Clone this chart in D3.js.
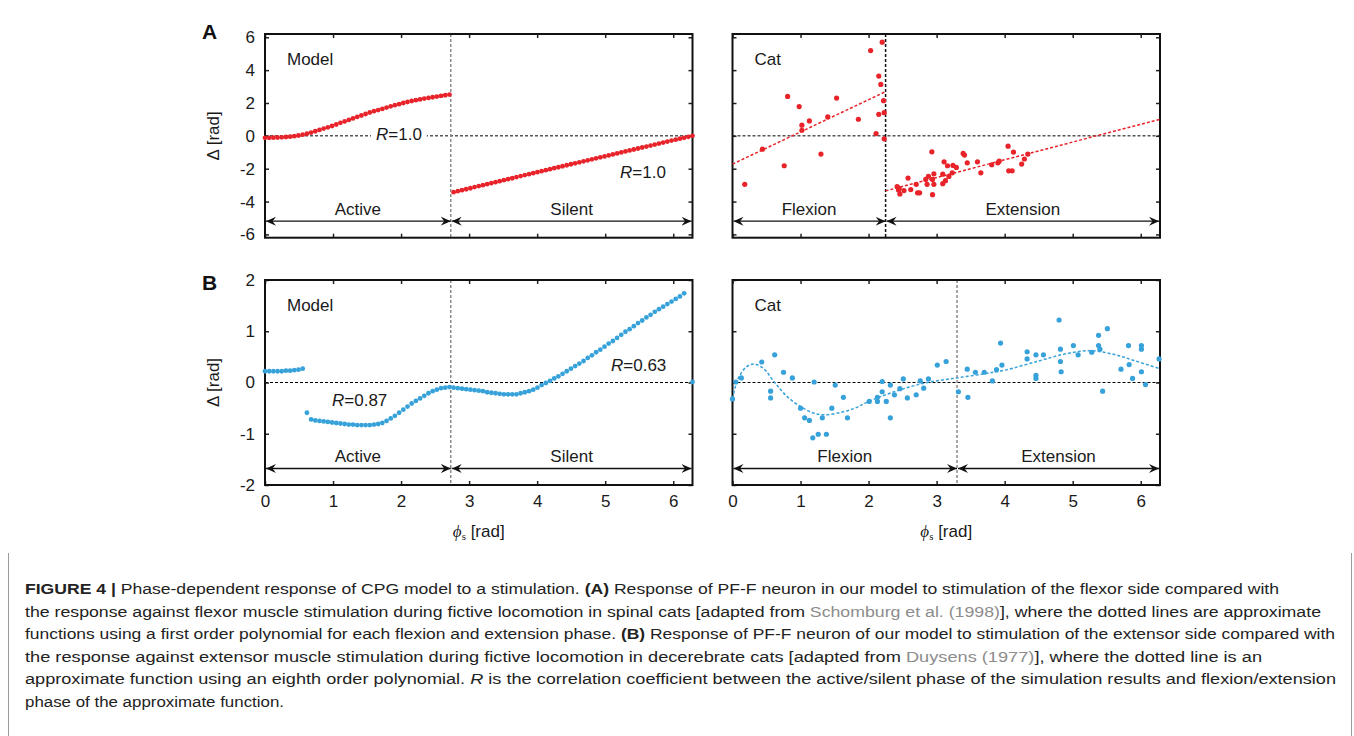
<!DOCTYPE html>
<html>
<head>
<meta charset="utf-8">
<script src="https://cdn.jsdelivr.net/npm/d3@7"></script>
<style>
  body { margin: 0; background: #fff; }
  svg { display: block; }
</style>
</head>
<body>
<svg id="chart" width="1354" height="736"></svg>
<script>
/* ---------------- dati ---------------- */

// fasi del modello: 103 campioni equispaziati su [0, 2pi]
const modelSteps = 102;

// A - modello, fase attiva e silente (Delta in rad)
const modelAActive = [-0.12, -0.12, -0.11, -0.10, -0.09, -0.07, -0.05, -0.02, 0.02, 0.07,
  0.13, 0.20, 0.28, 0.36, 0.44, 0.52, 0.60, 0.69, 0.79, 0.88,
  0.97, 1.06, 1.15, 1.24, 1.33, 1.42, 1.50, 1.57, 1.64, 1.72,
  1.80, 1.87, 1.93, 2.00, 2.06, 2.12, 2.17, 2.22, 2.27, 2.31,
  2.35, 2.39, 2.43, 2.47, 2.51];
const modelASilent = [-3.43, -3.37, -3.31, -3.25, -3.19, -3.12, -3.06, -3.00, -2.94, -2.88,
  -2.82, -2.76, -2.70, -2.64, -2.58, -2.51, -2.45, -2.39, -2.33, -2.27,
  -2.21, -2.15, -2.09, -2.03, -1.97, -1.91, -1.85, -1.79, -1.73, -1.67,
  -1.61, -1.55, -1.49, -1.43, -1.37, -1.31, -1.25, -1.19, -1.13, -1.07,
  -1.01, -0.95, -0.89, -0.83, -0.77, -0.71, -0.65, -0.59, -0.53, -0.47,
  -0.41, -0.35, -0.29, -0.23, -0.17, -0.12, -0.06, 0.00];

// B - modello
const modelBActive = [0.22, 0.22, 0.22, 0.22, 0.22, 0.23, 0.23, 0.24, 0.25, 0.27,
  -0.59, -0.72, -0.74, -0.75, -0.76, -0.77, -0.78, -0.79, -0.80, -0.81,
  -0.82, -0.82, -0.83, -0.83, -0.83, -0.83, -0.82, -0.81, -0.79, -0.75,
  -0.70, -0.65, -0.59, -0.53, -0.47, -0.41, -0.36, -0.31, -0.26, -0.21,
  -0.17, -0.14, -0.11, -0.10, -0.09];
const modelBSilent = [-0.10, -0.11, -0.12, -0.13, -0.14, -0.15, -0.16, -0.17, -0.19, -0.20,
  -0.21, -0.22, -0.23, -0.23, -0.23, -0.23, -0.21, -0.19, -0.17, -0.14,
  -0.10, -0.05, -0.01, 0.03, 0.08, 0.12, 0.17, 0.22, 0.27, 0.32,
  0.37, 0.42, 0.48, 0.53, 0.59, 0.64, 0.70, 0.76, 0.81, 0.87,
  0.93, 0.99, 1.04, 1.10, 1.16, 1.21, 1.27, 1.32, 1.38, 1.43,
  1.48, 1.53, 1.58, 1.63, 1.68, 1.74, null, 0.01];

// A - gatto (fase, Delta)
const catAFlexion = [[0.18, -2.95], [0.44, -0.81], [0.76, -1.82], [0.81, 2.40], [0.98, 1.78],
  [1.02, 0.65], [1.02, 0.34], [1.13, 0.91], [1.30, -1.11], [1.40, 1.15], [1.53, 2.30],
  [1.85, 1.01], [2.03, 5.19], [2.11, 0.14], [2.15, 3.64], [2.18, 3.13], [2.15, 1.31],
  [2.20, 5.70], [2.22, 2.14], [2.23, 1.41], [2.23, -0.18]];
const catAExtension = [[2.42, -3.09], [2.44, -3.30], [2.46, -3.54], [2.45, -3.19], [2.52, -3.33],
  [2.58, -2.57], [2.62, -3.27], [2.70, -2.95], [2.72, -3.47], [2.75, -3.47], [2.84, -2.65],
  [2.86, -2.95], [2.88, -2.46], [2.93, -0.97], [2.94, -3.58], [2.94, -2.65], [2.96, -2.31],
  [2.96, -2.95], [3.09, -2.91], [3.09, -2.33], [3.11, -1.58], [3.13, -2.73], [3.16, -1.82],
  [3.18, -2.47], [3.23, -2.25], [3.24, -1.80], [3.29, -1.92], [3.39, -1.07], [3.41, -1.17],
  [3.45, -1.64], [3.60, -1.58], [3.65, -2.25], [3.81, -1.76], [3.90, -1.64], [3.92, -1.54],
  [4.05, -0.63], [4.06, -2.13], [4.11, -2.13], [4.13, -0.99], [4.25, -1.72], [4.29, -1.41],
  [4.34, -1.11]];
// rette approssimanti (polinomio di primo ordine), estremi
const catAFitFlexion = [[0, -1.72], [2.25, 2.69]];
const catAFitExtension = [[2.25, -3.35], [2 * Math.PI, 1.01]];

// B - gatto
const catBPoints = [[0.00, -0.32], [0.05, 0.01], [0.13, 0.09], [0.43, 0.40], [0.56, -0.17],
  [0.56, -0.30], [0.62, 0.54], [0.75, 0.20], [0.88, 0.09], [1.00, -0.50], [1.06, -0.69],
  [1.13, -0.74], [1.18, -1.08], [1.20, 0.01], [1.26, -1.01], [1.32, -0.69], [1.38, -1.01],
  [1.46, -0.50], [1.51, -0.05], [1.63, -0.29], [1.69, -0.69], [2.01, -0.37], [2.13, -0.37],
  [2.13, -0.29], [2.20, 0.02], [2.20, -0.18], [2.26, -0.37], [2.32, -0.05], [2.32, -0.69],
  [2.38, -0.24], [2.46, -0.12], [2.51, 0.07], [2.57, -0.30], [2.70, -0.24], [2.76, 0.03],
  [2.81, -0.11], [2.88, 0.07], [3.01, 0.34], [3.14, 0.41], [3.32, -0.18], [3.45, 0.26],
  [3.46, -0.29], [3.57, 0.20], [3.70, 0.20], [3.82, 0.03], [3.88, 0.25], [3.94, 0.77],
  [3.96, 0.34], [4.33, 0.60], [4.33, 0.46], [4.46, 0.54], [4.46, 0.14], [4.46, 0.08],
  [4.57, 0.54], [4.80, 1.22], [4.82, 0.65], [4.82, 0.41], [4.83, 0.21], [5.01, 0.72],
  [5.08, 0.54], [5.28, 0.59], [5.38, 0.92], [5.38, 0.72], [5.40, 0.65], [5.44, -0.17],
  [5.51, 1.05], [5.71, 0.26], [5.82, 0.72], [5.83, 0.35], [5.88, 0.08], [6.01, 0.72],
  [6.01, 0.65], [6.01, 0.21], [6.07, -0.04], [6.27, 0.46]];
// curva approssimante (polinomio dell'ottavo ordine)
const catBCurve = [[0.00, -0.31], [0.05, -0.05], [0.10, 0.12], [0.20, 0.30], [0.31, 0.36],
  [0.45, 0.28], [0.62, 0.00], [0.80, -0.27], [1.00, -0.47], [1.20, -0.60], [1.36, -0.63],
  [1.60, -0.58], [1.80, -0.50], [2.00, -0.37], [2.40, -0.17], [2.83, -0.01], [3.30, 0.09],
  [3.70, 0.17], [4.00, 0.24], [4.50, 0.42], [4.90, 0.56], [5.25, 0.62], [5.60, 0.55],
  [5.90, 0.43], [6.28, 0.27]];

// confini tra le fasi
const modelBoundary = 2.73;
const catABoundary = 2.25;
const catBBoundary = 3.30;

// tacche
const xTicks = [0, 1, 2, 3, 4, 5, 6];
const yTicksA = [-6, -4, -2, 0, 2, 4, 6];
const yTicksB = [-2, -1, 0, 1, 2];

/* ---------------- impostazioni grafiche ---------------- */
const FONT = '"Liberation Sans", Arial, Helvetica, sans-serif';
const RED = "#e8232a";
const BLUE = "#37a2da";

const svg = d3.select("#chart");

/* freccia a doppia punta usata sotto ai pannelli */
svg.append("defs").append("marker")
  .attr("id", "arrow")
  .attr("viewBox", "-10 -5 10 10")
  .attr("refX", 0).attr("refY", 0)
  .attr("markerWidth", 10).attr("markerHeight", 10)
  .attr("markerUnits", "userSpaceOnUse")
  .attr("orient", "auto-start-reverse")
  .append("path")
  .attr("d", "M0,0L-10,-4.5L-6.5,0L-10,4.5Z")
  .attr("fill", "#111");

/* disegna il riquadro di un pannello, con assi, linee di riferimento e frecce */
function drawPanel(p) {
  const g = svg.append("g");
  const x = d3.scaleLinear().domain([0, 2 * Math.PI]).range([p.left, p.right]);
  const y = d3.scaleLinear().domain(p.yDomain).range([p.bottom, p.top]);

  // linea dello zero
  g.append("line")
    .attr("x1", p.left).attr("x2", p.right)
    .attr("y1", y(0)).attr("y2", y(0))
    .attr("stroke", "#000").attr("stroke-width", 1)
    .attr("stroke-dasharray", "3,2");

  // confine tra le due fasi
  g.append("line")
    .attr("x1", x(p.boundary)).attr("x2", x(p.boundary))
    .attr("y1", p.top).attr("y2", p.bottom)
    .attr("stroke", p.boundaryColor).attr("stroke-width", 1.5)
    .attr("stroke-dasharray", "3,2");

  // assi con tacche rivolte verso l'interno
  const noLabel = () => "";
  const axes = [
    [d3.axisLeft(y).tickValues(p.yTicks).tickFormat(p.yLabels ? d => String(d) : noLabel), `translate(${p.left},0)`],
    [d3.axisRight(y).tickValues(p.yTicks).tickFormat(noLabel), `translate(${p.right},0)`],
    [d3.axisBottom(x).tickValues(xTicks).tickFormat(p.xLabels ? d => String(d) : noLabel), `translate(0,${p.bottom})`],
    [d3.axisTop(x).tickValues(xTicks).tickFormat(noLabel), `translate(0,${p.top})`]
  ];
  axes.forEach(([ax, tr]) => {
    const a = g.append("g").attr("transform", tr)
      .call(ax.tickSize(-4).tickPadding(10));
    a.select(".domain").remove();
    a.selectAll("line").attr("stroke", "#222").attr("stroke-width", 1.5);
    a.selectAll("text")
      .attr("font-family", FONT).attr("font-size", 17).attr("fill", "#1a1a1a");
  });

  // riquadro
  g.append("rect")
    .attr("x", p.left).attr("y", p.top)
    .attr("width", p.right - p.left).attr("height", p.bottom - p.top)
    .attr("fill", "none").attr("stroke", "#111").attr("stroke-width", 2);

  // frecce delle fasi ed etichette
  const ay = p.bottom - 16.5;
  const spans = [[0, p.boundary, p.phaseLabels[0]], [p.boundary, 2 * Math.PI, p.phaseLabels[1]]];
  spans.forEach(([a, b, label]) => {
    g.append("line")
      .attr("x1", x(a) + 1).attr("x2", x(b) - (b === 2 * Math.PI ? 1 : 0))
      .attr("y1", ay).attr("y2", ay)
      .attr("stroke", "#111").attr("stroke-width", 1.3)
      .attr("marker-start", "url(#arrow)")
      .attr("marker-end", "url(#arrow)");
    g.append("text")
      .attr("x", (x(a) + x(b)) / 2).attr("y", p.bottom - 23)
      .attr("text-anchor", "middle")
      .attr("font-family", FONT).attr("font-size", 17).attr("fill", "#1a1a1a")
      .text(label);
  });

  // nome del pannello
  g.append("text")
    .attr("x", p.left + 22).attr("y", p.top + 30.5)
    .attr("font-family", FONT).attr("font-size", 17).attr("fill", "#1a1a1a")
    .text(p.name);

  return { g, x, y };
}

/* etichetta R=... con R in corsivo */
function addR(g, px, py, value, whiteBg) {
  const t = g.append("text")
    .attr("x", px).attr("y", py)
    .attr("font-family", FONT).attr("font-size", 17).attr("fill", "#1a1a1a");
  t.append("tspan").attr("font-style", "italic").text("R");
  t.append("tspan").text("=" + value);
  if (whiteBg) {
    const bb = t.node().getBBox();
    g.insert("rect", () => t.node())
      .attr("x", bb.x - 5).attr("y", bb.y)
      .attr("width", bb.width + 10).attr("height", bb.height)
      .attr("fill", "#fff");
  }
}

function dots(g, pts, x, y, r, color) {
  g.selectAll(null)
    .data(pts.filter(d => d[1] !== null))
    .enter()
    .append("circle")
    .attr("cx", d => x(d[0]))
    .attr("cy", d => y(d[1]))
    .attr("r", r)
    .attr("fill", color);
}

// punti del modello: fase = indice * 2pi / modelSteps
function modelPoints(active, silent) {
  return active.concat(silent).map((v, i) => [i * 2 * Math.PI / modelSteps, v]);
}

const LEFT = [265, 692.5];
const RIGHT = [732.5, 1160];
const ROW_A = [34, 237.7];
const ROW_B = [280, 485];

/* ---- A, modello ---- */
const pAM = drawPanel({
  left: LEFT[0], right: LEFT[1], top: ROW_A[0], bottom: ROW_A[1],
  yDomain: [-6.2, 6.2], yTicks: yTicksA, yLabels: true, xLabels: false,
  boundary: modelBoundary, boundaryColor: "#8a8a8a",
  phaseLabels: ["Active", "Silent"], name: "Model"
});
addR(pAM.g, 376, 140, "1.0", true);
addR(pAM.g, 620, 178, "1.0", false);
dots(pAM.g, modelPoints(modelAActive, modelASilent), pAM.x, pAM.y, 2.4, RED);

/* ---- A, gatto ---- */
const pAC = drawPanel({
  left: RIGHT[0], right: RIGHT[1], top: ROW_A[0], bottom: ROW_A[1],
  yDomain: [-6.2, 6.2], yTicks: yTicksA, yLabels: false, xLabels: false,
  boundary: catABoundary, boundaryColor: "#111",
  phaseLabels: ["Flexion", "Extension"], name: "Cat"
});
[catAFitFlexion, catAFitExtension].forEach(seg => {
  pAC.g.append("path")
    .attr("d", d3.line().x(d => pAC.x(d[0])).y(d => pAC.y(d[1]))(seg))
    .attr("fill", "none").attr("stroke", RED).attr("stroke-width", 1.5)
    .attr("stroke-dasharray", "3,2");
});
dots(pAC.g, catAFlexion.concat(catAExtension), pAC.x, pAC.y, 2.6, RED);

/* ---- B, modello ---- */
const pBM = drawPanel({
  left: LEFT[0], right: LEFT[1], top: ROW_B[0], bottom: ROW_B[1],
  yDomain: [-2, 2], yTicks: yTicksB, yLabels: true, xLabels: true,
  boundary: modelBoundary, boundaryColor: "#8a8a8a",
  phaseLabels: ["Active", "Silent"], name: "Model"
});
addR(pBM.g, 332, 406, "0.87", false);
addR(pBM.g, 611, 371, "0.63", false);
dots(pBM.g, modelPoints(modelBActive, modelBSilent), pBM.x, pBM.y, 2.4, BLUE);

/* ---- B, gatto ---- */
const pBC = drawPanel({
  left: RIGHT[0], right: RIGHT[1], top: ROW_B[0], bottom: ROW_B[1],
  yDomain: [-2, 2], yTicks: yTicksB, yLabels: false, xLabels: true,
  boundary: catBBoundary, boundaryColor: "#8a8a8a",
  phaseLabels: ["Flexion", "Extension"], name: "Cat"
});
pBC.g.append("path")
  .attr("d", d3.line().curve(d3.curveCatmullRom).x(d => pBC.x(d[0])).y(d => pBC.y(d[1]))(catBCurve))
  .attr("fill", "none").attr("stroke", BLUE).attr("stroke-width", 1.5)
  .attr("stroke-dasharray", "3,2");
dots(pBC.g, catBPoints, pBC.x, pBC.y, 2.6, BLUE);

/* lettere dei pannelli */
[["A", 39], ["B", 290]].forEach(([l, yy]) => {
  svg.append("text").attr("x", 202).attr("y", yy)
    .attr("font-family", FONT).attr("font-weight", "bold").attr("font-size", 21)
    .attr("fill", "#111").text(l);
});

/* etichette degli assi y */
[(ROW_A[0] + ROW_A[1]) / 2, (ROW_B[0] + ROW_B[1]) / 2].forEach(cy => {
  svg.append("text")
    .attr("transform", `translate(219,${cy}) rotate(-90)`)
    .attr("text-anchor", "middle")
    .attr("font-family", FONT).attr("font-size", 17).attr("fill", "#1a1a1a")
    .text("\u0394 [rad]");
});

/* etichette degli assi x */
[(LEFT[0] + LEFT[1]) / 2, (RIGHT[0] + RIGHT[1]) / 2].forEach(cx => {
  const t = svg.append("text")
    .attr("x", cx).attr("y", 537)
    .attr("text-anchor", "middle")
    .attr("font-family", FONT).attr("font-size", 17).attr("fill", "#1a1a1a");
  t.append("tspan").attr("font-family", '"Liberation Serif", serif').attr("font-style", "italic").text("\u03d5");
  t.append("tspan").attr("font-family", '"Liberation Serif", serif').attr("font-size", 11).attr("dy", 3).text("s");
  t.append("tspan").attr("dy", -3).text(" [rad]");
});

/* ---------------- didascalia ---------------- */
const captionLines = [
  [["FIGURE 4 | ", "b"], ["Phase-dependent response of CPG model to a stimulation. ", ""], ["(A)", "b"],
   [" Response of PF-F neuron in our model to stimulation of the flexor side compared with", ""]],
  [["the response against flexor muscle stimulation during fictive locomotion in spinal cats [adapted from ", ""],
   ["Schomburg et al. (1998)", "link"], ["], where the dotted lines are approximate", ""]],
  [["functions using a first order polynomial for each flexion and extension phase. ", ""], ["(B)", "b"],
   [" Response of PF-F neuron of our model to stimulation of the extensor side compared with", ""]],
  [["the response against extensor muscle stimulation during fictive locomotion in decerebrate cats [adapted from ", ""],
   ["Duysens (1977)", "link"], ["], where the dotted line is an", ""]],
  [["approximate function using an eighth order polynomial. ", ""], ["R", "i"],
   [" is the correlation coefficient between the active/silent phase of the simulation results and flexion/extension", ""]],
  [["phase of the approximate function.", ""]]
];
const captionWidths = [1254, 1296, 1310, 1237, 1311, 259];

svg.append("line").attr("x1", 8.5).attr("x2", 8.5).attr("y1", 553).attr("y2", 736)
  .attr("stroke", "#9a9a9a").attr("stroke-width", 1);
svg.append("line").attr("x1", 1351.5).attr("x2", 1351.5).attr("y1", 553).attr("y2", 736)
  .attr("stroke", "#9a9a9a").attr("stroke-width", 1);

captionLines.forEach((line, i) => {
  const t = svg.append("text")
    .attr("x", 25).attr("y", 594 + i * 22.6)
    .attr("font-family", FONT).attr("font-size", 15.5).attr("fill", "#222")
    .attr("textLength", captionWidths[i])
    .attr("lengthAdjust", "spacingAndGlyphs");
  line.forEach(([txt, st]) => {
    const s = t.append("tspan").text(txt);
    if (st === "b") s.attr("font-weight", "bold");
    if (st === "i") s.attr("font-style", "italic");
    if (st === "link") s.attr("fill", "#8c8c8c");
  });
});
</script>
</body>
</html>
